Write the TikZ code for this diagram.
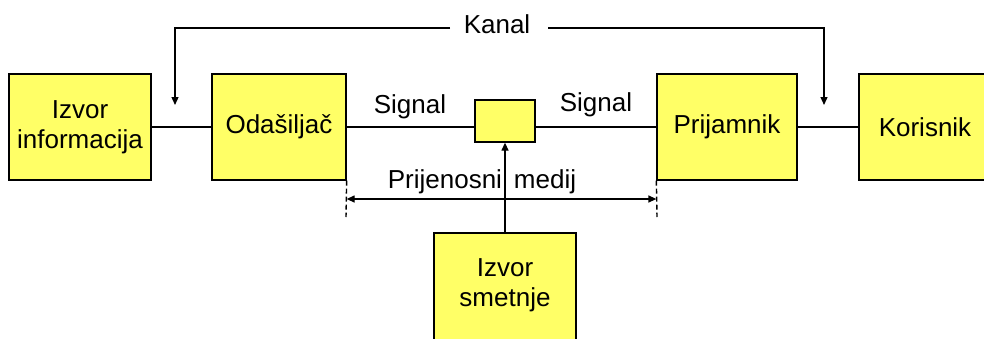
\documentclass[tikz,border=0pt]{standalone}
\usepackage{fontspec}
\setmainfont{Liberation Sans}
\usetikzlibrary{arrows.meta}
\definecolor{boxyellow}{HTML}{FFFF66}
\begin{document}
\begin{tikzpicture}[x=1pt,y=-1pt,
  blk/.style={draw=black,line width=1.3pt,fill=boxyellow,inner sep=0pt},
  lbl/.style={font=\fontsize{26}{30}\selectfont,align=center,inner sep=0pt},
  ln/.style={line width=1.3pt},
  dsh/.style={line width=1.4pt,dash pattern=on 5pt off 3pt},
  tip/.style={-{Triangle[length=8pt,width=7pt]}}]
\useasboundingbox (0,0) rectangle (984,338);
\begin{scope}
\clip (0,0) rectangle (984,338);
% boxes
\node[blk,minimum width=142pt,minimum height=106pt] (izv) at (80,127) {};
\node[lbl] at (80,127) {Izvor\\informacija};
\node[blk,minimum width=134pt,minimum height=106pt] (oda) at (279,127) {};
\node[lbl] at (279,127) {Odašiljač};
\node[blk,minimum width=60pt,minimum height=42pt] (med) at (505,121) {};
\node[blk,minimum width=140pt,minimum height=106pt] (pri) at (727,127) {};
\node[lbl] at (727,127) {Prijamnik};
\node[blk,minimum width=136pt,minimum height=106pt] (kor) at (927,127) {};
\node[lbl] at (925,127) {Korisnik};
\node[blk,minimum width=142pt,minimum height=120pt] (sme) at (505,293) {};
\node[lbl] at (505,285) {Izvor\\smetnje};
\end{scope}
% connectors
\draw[ln] (izv.east |- 0,127) -- (oda.west |- 0,127);
\draw[ln] (oda.east |- 0,127) -- (med.west |- 0,127);
\draw[ln] (med.east |- 0,127) -- (pri.west |- 0,127);
\draw[ln] (pri.east |- 0,127) -- (kor.west |- 0,127);
\draw[ln,tip] (sme.north) -- (med.south);
% Kanal
\node[lbl] (kanal) at (497,24) {Kanal};
\coordinate (kl) at (175,105);
\coordinate (kr) at (824,105);
\draw[ln,tip] (450,28) -| (kl);
\draw[ln,tip] (548,28) -| (kr);
% signal labels
\node[lbl] (s1) at (410,107) {Signal};
\node[lbl] (s2) at (596,105) {Signal};
% medium
\coordinate (dl1) at (oda.south east); \coordinate (dl2) at (346,217);
\coordinate (dr1) at (pri.south west); \coordinate (dr2) at (657,217);
\draw[dsh] (dl1) -- (dl2);
\draw[dsh] (dr1) -- (dr2);
\draw[ln,{Triangle[length=8pt,width=7pt]}-{Triangle[length=8pt,width=7pt]}] (dl1 |- 0,199) -- (dr1 |- 0,199);
\node[lbl] (pm) at (482,182) {Prijenosni\hspace{12pt}medij};
\end{tikzpicture}
\end{document}
